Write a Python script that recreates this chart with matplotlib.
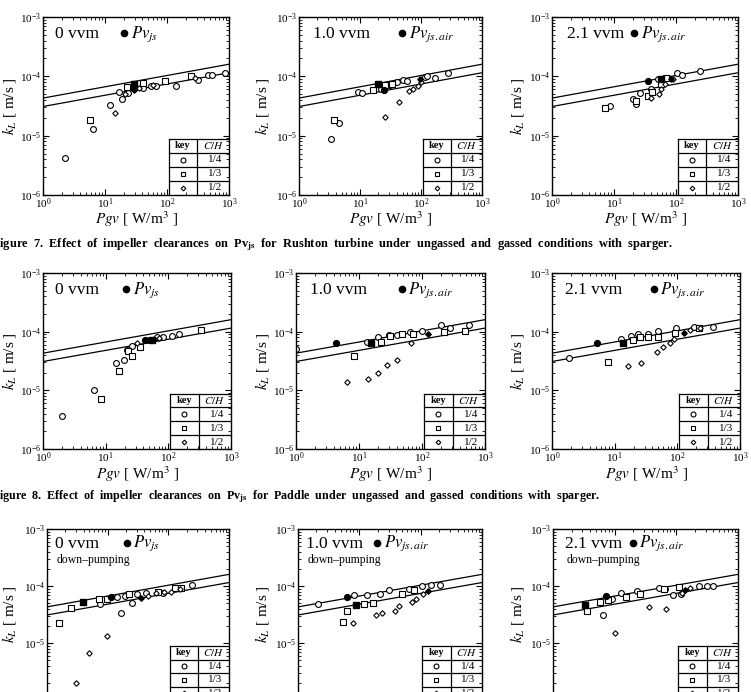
import matplotlib.pyplot as plt

plt.rcParams['font.family'] = ['Liberation Serif', 'DejaVu Serif']
plt.rcParams['mathtext.fontset'] = 'stix'

W, H = 751, 692

# correlation lines, identical in all panels
line_x = [1, 1000]
upper_y = [4.3e-5, 1.6e-4]
lower_y = [3.1e-5, 1.15e-4]

key_labels = ['1/4', '1/3', '1/2']
gas_labels = ['0 vvm', '1.0 vvm', '2.1 vvm']
pv_labels = [r'$Pv_{js}$', r'$Pv_{js.air}$', r'$Pv_{js.air}$']
captions = [
    'Figure  7.  Effect  of  impeller  clearances  on  Pv$_{\\mathbf{js}}$  for  Rushton  turbine  under  ungassed  and  gassed  conditions  with  sparger.',
    'Figure  8.  Effect  of  impeller  clearances  on  Pv$_{\\mathbf{js}}$  for  Paddle  under  ungassed  and  gassed  conditions  with  sparger.',
]

# ---- Figure 7, Rushton turbine ----
r1c1_circ_x = [2.3, 6.3, 12.2, 16.8, 18.6, 23.5, 41, 56, 67, 138, 316, 464, 540, 850]
r1c1_circ_y = [4.2e-6, 1.3e-5, 3.3e-5, 5.5e-5, 4.1e-5, 5.2e-5, 6.3e-5, 6.9e-5, 7.0e-5, 7.0e-5, 8.7e-5, 1.04e-4, 1.06e-4, 1.12e-4]
r1c1_sq_x = [5.8, 22.4, 41, 94, 240]
r1c1_sq_y = [1.87e-5, 6.5e-5, 7.6e-5, 8.4e-5, 1.01e-4]
r1c1_di_x = [14.7, 21, 35, 60, 280]
r1c1_di_y = [2.45e-5, 5.0e-5, 6.4e-5, 7.2e-5, 9.2e-5]
r1c1_js_x = [29, 29, 29]
r1c1_js_y = [7.3e-5, 6.4e-5, 5.8e-5]
r1c1_js_key = ['1/3', '1/4', '1/2']

r1c2_circ_x = [3.3, 4.6, 9.4, 10.6, 21.8, 30.6, 41, 51, 59, 115, 126, 172, 274]
r1c2_circ_y = [8.7e-6, 1.64e-5, 5.4e-5, 5.3e-5, 6.2e-5, 7.1e-5, 8.1e-5, 8.6e-5, 8.4e-5, 9.8e-5, 1.0e-4, 9.3e-5, 1.13e-4]
r1c2_sq_x = [3.8, 16.3, 26, 34]
r1c2_sq_y = [1.87e-5, 5.9e-5, 7.1e-5, 7.4e-5]
r1c2_di_x = [26, 43, 63, 74, 90, 100]
r1c2_di_y = [2.04e-5, 3.7e-5, 5.7e-5, 6.2e-5, 6.9e-5, 8.1e-5]
r1c2_js_x = [19.7, 24.4, 97]
r1c2_js_y = [7.4e-5, 5.9e-5, 8.9e-5]
r1c2_js_key = ['1/3', '1/4', '1/2']

r1c3_circ_x = [8.5, 19.9, 23, 26, 40, 52, 75, 102, 123, 243]
r1c3_circ_y = [3.2e-5, 4.2e-5, 3.4e-5, 5.3e-5, 6.1e-5, 9.0e-5, 9.2e-5, 1.13e-4, 1.05e-4, 1.24e-4]
r1c3_sq_x = [7.2, 23, 35, 41, 58, 70]
r1c3_sq_y = [2.96e-5, 3.9e-5, 4.7e-5, 5.5e-5, 7.4e-5, 9.2e-5]
r1c3_di_x = [40, 54, 57, 66, 90]
r1c3_di_y = [4.3e-5, 5.0e-5, 6.1e-5, 7.4e-5, 9.0e-5]
r1c3_js_x = [35, 58, 82]
r1c3_js_y = [8.2e-5, 9.0e-5, 9.0e-5]
r1c3_js_key = ['1/4', '1/3', '1/2']

# ---- Figure 8, Paddle ----
r2c1_circ_x = [2.0, 6.6, 14.8, 19.6, 22, 26.6, 65, 83, 113, 149]
r2c1_circ_y = [3.6e-6, 1.0e-5, 2.9e-5, 3.3e-5, 4.9e-5, 5.8e-5, 8.1e-5, 8.1e-5, 8.5e-5, 9.1e-5]
r2c1_sq_x = [8.5, 16.3, 22.4, 26.6, 35, 335]
r2c1_sq_y = [7.0e-6, 2.1e-5, 4.6e-5, 3.9e-5, 5.5e-5, 1.07e-4]
r2c1_di_x = [32, 60, 72]
r2c1_di_y = [6.4e-5, 7.6e-5, 7.8e-5]
r2c1_js_x = [42, 48, 55]
r2c1_js_y = [7.1e-5, 7.2e-5, 7.3e-5]
r2c1_js_key = ['1/4', '1/2', '1/3']

r2c2_circ_x = [1.0, 13.2, 20, 30, 40, 65, 101, 198, 277, 567]
r2c2_circ_y = [5.0e-5, 6.7e-5, 8.2e-5, 8.8e-5, 8.8e-5, 1.0e-4, 1.03e-4, 1.3e-4, 1.14e-4, 1.3e-4]
r2c2_sq_x = [8.2, 22.4, 31, 48, 73, 226, 480]
r2c2_sq_y = [3.8e-5, 6.7e-5, 8.4e-5, 9.1e-5, 9.3e-5, 1.0e-4, 1.02e-4]
r2c2_di_x = [6.4, 14.1, 20, 28, 40, 67]
r2c2_di_y = [1.37e-5, 1.55e-5, 1.95e-5, 2.75e-5, 3.3e-5, 6.5e-5]
r2c2_js_x = [4.3, 15.3, 123]
r2c2_js_y = [6.3e-5, 6.3e-5, 9.1e-5]
r2c2_js_key = ['1/4', '1/3', '1/2']

r2c3_circ_x = [1.9, 12.6, 18.4, 23.5, 34, 50, 94, 187, 376]
r2c3_circ_y = [3.5e-5, 7.4e-5, 8.4e-5, 9.0e-5, 9.0e-5, 1.02e-4, 1.14e-4, 1.2e-4, 1.2e-4]
r2c3_sq_x = [7.8, 19.3, 25.5, 34, 50, 92, 225]
r2c3_sq_y = [3.1e-5, 7.2e-5, 8.0e-5, 8.0e-5, 8.2e-5, 9.6e-5, 1.14e-4]
r2c3_di_x = [16.3, 26.5, 48, 58, 75, 89, 160, 230]
r2c3_di_y = [2.6e-5, 2.9e-5, 4.5e-5, 5.5e-5, 6.3e-5, 7.6e-5, 1.06e-4, 1.14e-4]
r2c3_js_x = [5.2, 13.5, 128]
r2c3_js_y = [6.3e-5, 6.5e-5, 9.4e-5]
r2c3_js_key = ['1/4', '1/3', '1/2']

# ---- down-pumping row ----
r3c1_circ_x = [7.6, 14.3, 16.8, 19.0, 25, 30.8, 43, 81, 249]
r3c1_circ_y = [4.9e-5, 6.5e-5, 3.3e-5, 6.7e-5, 5.1e-5, 7.1e-5, 7.6e-5, 7.6e-5, 1.04e-4]
r3c1_sq_x = [1.58, 2.45, 7.2, 9.7, 22.4, 68, 130, 163]
r3c1_sq_y = [2.2e-5, 4.1e-5, 5.8e-5, 5.8e-5, 7.3e-5, 8.0e-5, 9.2e-5, 9.2e-5]
r3c1_di_x = [2.97, 5.0, 9.7, 46, 62, 85, 112, 153]
r3c1_di_y = [1.97e-6, 6.7e-6, 1.35e-5, 6.8e-5, 7.4e-5, 7.8e-5, 7.8e-5, 8.7e-5]
r3c1_js_x = [3.9, 11.5, 36]
r3c1_js_y = [5.3e-5, 6.5e-5, 6.2e-5]
r3c1_js_key = ['1/3', '1/4', '1/2']

r3c2_circ_x = [2.13, 8.3, 13.5, 21.5, 29.9, 63.5, 105, 148, 207]
r3c2_circ_y = [4.9e-5, 6.9e-5, 6.9e-5, 7.3e-5, 8.6e-5, 8.9e-5, 9.9e-5, 1.05e-4, 1.03e-4]
r3c2_sq_x = [5.4, 6.3, 11.9, 16.7, 49, 79]
r3c2_sq_y = [2.35e-5, 3.6e-5, 4.8e-5, 5.0e-5, 7.3e-5, 8.4e-5]
r3c2_di_x = [8.0, 19, 23.8, 38, 45, 71, 83, 111]
r3c2_di_y = [2.26e-5, 3.16e-5, 3.4e-5, 3.7e-5, 4.4e-5, 5.2e-5, 5.8e-5, 7.2e-5]
r3c2_js_x = [6.4, 8.7, 134]
r3c2_js_y = [6.3e-5, 4.6e-5, 8.2e-5]
r3c2_js_key = ['1/4', '1/3', '1/2']

r3c3_circ_x = [6.5, 9.1, 12.7, 23, 53, 66, 89.5, 119, 235, 309, 395]
r3c3_circ_y = [3.1e-5, 5.9e-5, 7.4e-5, 8.2e-5, 9.3e-5, 8.8e-5, 6.9e-5, 7.2e-5, 1.0e-4, 1.0e-4, 1.0e-4]
r3c3_sq_x = [3.5, 5.7, 7.7, 15.2, 25.3, 63, 109]
r3c3_sq_y = [3.6e-5, 5.3e-5, 5.6e-5, 6.5e-5, 7.1e-5, 8.7e-5, 9.5e-5]
r3c3_di_x = [10.3, 36, 68, 122, 166]
r3c3_di_y = [1.52e-5, 4.3e-5, 4.0e-5, 7.4e-5, 9.1e-5]
r3c3_js_x = [3.3, 7.2, 138]
r3c3_js_y = [4.7e-5, 6.7e-5, 8.5e-5]
r3c3_js_key = ['1/3', '1/4', '1/2']

panels = [
    [(r1c1_circ_x, r1c1_circ_y, r1c1_sq_x, r1c1_sq_y, r1c1_di_x, r1c1_di_y, r1c1_js_x, r1c1_js_y, r1c1_js_key),
     (r1c2_circ_x, r1c2_circ_y, r1c2_sq_x, r1c2_sq_y, r1c2_di_x, r1c2_di_y, r1c2_js_x, r1c2_js_y, r1c2_js_key),
     (r1c3_circ_x, r1c3_circ_y, r1c3_sq_x, r1c3_sq_y, r1c3_di_x, r1c3_di_y, r1c3_js_x, r1c3_js_y, r1c3_js_key)],
    [(r2c1_circ_x, r2c1_circ_y, r2c1_sq_x, r2c1_sq_y, r2c1_di_x, r2c1_di_y, r2c1_js_x, r2c1_js_y, r2c1_js_key),
     (r2c2_circ_x, r2c2_circ_y, r2c2_sq_x, r2c2_sq_y, r2c2_di_x, r2c2_di_y, r2c2_js_x, r2c2_js_y, r2c2_js_key),
     (r2c3_circ_x, r2c3_circ_y, r2c3_sq_x, r2c3_sq_y, r2c3_di_x, r2c3_di_y, r2c3_js_x, r2c3_js_y, r2c3_js_key)],
    [(r3c1_circ_x, r3c1_circ_y, r3c1_sq_x, r3c1_sq_y, r3c1_di_x, r3c1_di_y, r3c1_js_x, r3c1_js_y, r3c1_js_key),
     (r3c2_circ_x, r3c2_circ_y, r3c2_sq_x, r3c2_sq_y, r3c2_di_x, r3c2_di_y, r3c2_js_x, r3c2_js_y, r3c2_js_key),
     (r3c3_circ_x, r3c3_circ_y, r3c3_sq_x, r3c3_sq_y, r3c3_di_x, r3c3_di_y, r3c3_js_x, r3c3_js_y, r3c3_js_key)],
]

# layout in pixels of the original page
row_tb = [(17, 195), (273, 449), (529, 700)]
col_lr = [[(43, 229), (299, 482), (552, 738)],
          [(43, 231), (296, 485), (552, 740)],
          [(47, 229), (298, 482), (553, 738)]]
ylabel_px = [18, 271, 526]       # right edge of the rotated y label
xlabel_px = [209, 464]           # top of the x label, rows 1 and 2
caption_px = [245, 497]
caption_size = [8.9, 8.65]
# x positions (axes fraction) of gas label, dot, Pv label
label_pos = [[(0.065, 0.435, 0.475), (0.077, 0.563, 0.60), (0.08, 0.44, 0.48)],
             [(0.065, 0.44, 0.48), (0.074, 0.56, 0.595), (0.07, 0.54, 0.575)],
             [(0.045, 0.44, 0.475), (0.045, 0.43, 0.465), (0.065, 0.43, 0.465)]]

mk = {'1/4': ('o', 4.2), '1/3': ('s', 4.0), '1/2': ('D', 2.8)}

fig = plt.figure(figsize=(W / 100, H / 100), dpi=100)


def draw_key(ax):
    x0, x1 = 0.675, 0.83
    top = 0.315
    rh = top / 4
    kw = dict(transform=ax.transAxes, color='black', lw=0.9, clip_on=False)
    ax.plot([x0, x0], [0, top], **kw)
    ax.plot([x1, x1], [0, top], **kw)
    for i in range(4):
        y = top - i * rh
        ax.plot([x0, 1], [y, y], **kw)
    ax.text((x0 + x1) / 2, top - rh / 2, 'key', transform=ax.transAxes, ha='center', va='center',
            fontsize=7.5, fontweight='bold')
    ax.text((x1 + 1) / 2, top - rh / 2, '$C/H$', transform=ax.transAxes, ha='center', va='center', fontsize=8)
    for i, k in enumerate(key_labels):
        yc = top - (i + 1.5) * rh
        m, s = mk[k]
        ax.plot([(x0 + x1) / 2], [yc], marker=m, ms=s * 0.85, mfc='white', mec='black', mew=0.8,
                transform=ax.transAxes, clip_on=False)
        ax.text((x1 + 1) / 2 + 0.01, yc, k, transform=ax.transAxes, ha='center', va='center', fontsize=8)


for r in range(3):
    top_px, bot_px = row_tb[r]
    for c in range(3):
        l_px, r_px = col_lr[r][c]
        ax = fig.add_axes([l_px / W, 1 - bot_px / H, (r_px - l_px) / W, (bot_px - top_px) / H])
        cx, cy, sx, sy, dx, dy, jx, jy, jk = panels[r][c]
        ax.plot(line_x, upper_y, color='black', lw=0.9)
        ax.plot(line_x, lower_y, color='black', lw=0.9)
        ax.plot(cx, cy, ls='none', marker='o', ms=mk['1/4'][1], mfc='white', mec='black', mew=0.8)
        ax.plot(sx, sy, ls='none', marker='s', ms=mk['1/3'][1], mfc='white', mec='black', mew=0.8)
        ax.plot(dx, dy, ls='none', marker='D', ms=mk['1/2'][1], mfc='white', mec='black', mew=0.8)
        for x, y, k in zip(jx, jy, jk):
            m, s = mk[k]
            ax.plot([x], [y], ls='none', marker=m, ms=s, mfc='black', mec='black')
        ax.set_xscale('log')
        ax.set_yscale('log')
        ax.set_xlim(1, 1000)
        ax.set_ylim(1e-6, 1e-3)
        ax.tick_params(which='both', direction='in', top=True, right=True, labelsize=8, pad=1)
        ax.tick_params(which='major', length=4, width=0.8)
        ax.tick_params(which='minor', length=2, width=0.6)
        for sp in ax.spines.values():
            sp.set_linewidth(1.0)
        ax.set_xlabel(r'$Pgv$ [ W/m$^3$ ]', fontsize=11)
        ax.set_ylabel(r'$k_L$ [ m/s ]', fontsize=11)
        ax.yaxis.set_label_coords((ylabel_px[c] - l_px) / (r_px - l_px), 0.5)
        if r < 2:
            ax.xaxis.set_label_coords(0.5, -(xlabel_px[r] - bot_px) / (bot_px - top_px))

        gx, dotx, pvx = label_pos[r][c]
        gy = 0.905 if r < 2 else 0.915
        ax.text(gx, gy, gas_labels[c], transform=ax.transAxes, fontsize=12.5, va='center', ha='left')
        ax.plot([dotx], [gy + 0.005], transform=ax.transAxes, marker='o', ms=4.5, color='black')
        ax.text(pvx, gy, pv_labels[c], transform=ax.transAxes, fontsize=12, va='center', ha='left')
        if r == 2:
            ax.text(gx + 0.01, 0.82, 'down\u2013pumping', transform=ax.transAxes, fontsize=8.5,
                    va='center', ha='left')
        draw_key(ax)

for i, cap in enumerate(captions):
    fig.text(-8 / W, 1 - caption_px[i] / H, cap, fontsize=caption_size[i], fontweight='bold',
             ha='left', va='center')

fig.savefig('out.png', dpi=100)
